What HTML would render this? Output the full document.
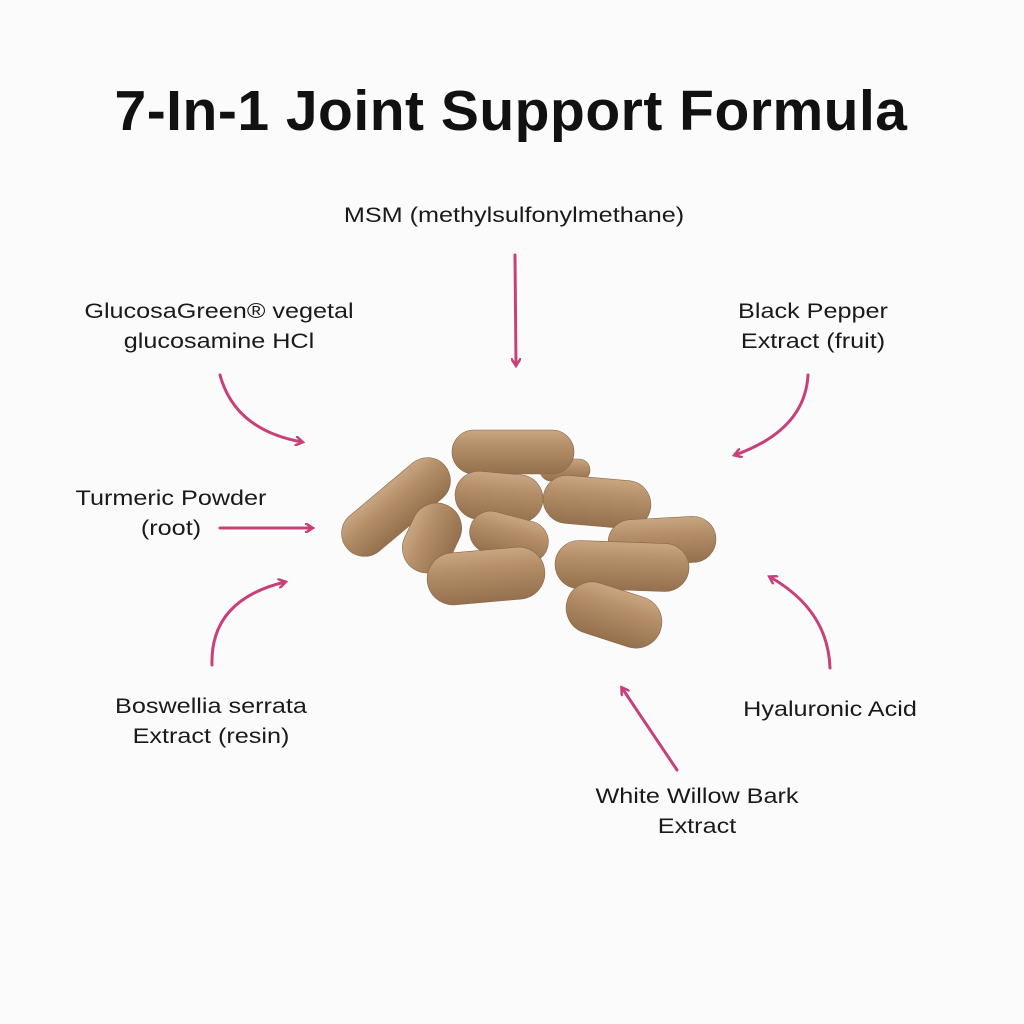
<!DOCTYPE html>
<html><head><style>
body{margin:0;width:1024px;height:1024px;background:#fbfbfb;position:relative;overflow:hidden;font-family:"Liberation Sans",sans-serif;color:#1a1a1a}
.t{position:absolute;left:0;width:1022px;top:78px;text-align:center;font-weight:bold;font-size:57px;letter-spacing:0.5px;color:#111}
.l{position:absolute;width:600px;font-size:21px;text-align:center;line-height:30px;white-space:nowrap;transform:scaleX(1.2);transform-origin:center}
svg{position:absolute;left:0;top:0}
</style></head><body>
<div class="t">7-In-1 Joint Support Formula</div>
<div class="l" style="left:214px;top:201px">MSM (methylsulfonylmethane)</div>
<div class="l" style="left:-81px;top:297px">GlucosaGreen® vegetal<br>glucosamine HCl</div>
<div class="l" style="left:513px;top:297px">Black Pepper<br>Extract (fruit)</div>
<div class="l" style="left:-129px;top:484px">Turmeric Powder<br>(root)</div>
<div class="l" style="left:-89px;top:692px">Boswellia serrata<br>Extract (resin)</div>
<div class="l" style="left:530px;top:695px">Hyaluronic Acid</div>
<div class="l" style="left:397px;top:782px">White Willow Bark<br>Extract</div>
<svg width="1024" height="1024">
<defs>
<linearGradient id="g" x1="0" y1="0" x2="0" y2="1">
<stop offset="0" stop-color="#c9a682"/><stop offset="0.35" stop-color="#b48f69"/><stop offset="1" stop-color="#94704e"/>
</linearGradient>
<marker id="a" markerWidth="10" markerHeight="10" refX="7" refY="5" orient="auto" markerUnits="userSpaceOnUse" viewBox="0 0 10 10"><path d="M0,0 L8,5 L0,10" fill="none" stroke="#c8407a" stroke-width="2.5"/></marker>
</defs>
<g fill="none" stroke="#c8407a" stroke-width="3" stroke-linecap="round">
<path d="M515,255 L516,365" marker-end="url(#a)"/>
<path d="M220,375 Q235,430 302,442" marker-end="url(#a)"/>
<path d="M808,375 Q805,430 735,455" marker-end="url(#a)"/>
<path d="M220,528 L312,528" marker-end="url(#a)"/>
<path d="M212,665 Q210,600 285,582" marker-end="url(#a)"/>
<path d="M830,668 Q828,610 770,577" marker-end="url(#a)"/>
<path d="M677,770 L622,688" marker-end="url(#a)"/>
</g>
<g fill="url(#g)" stroke="#8a6746" stroke-width="0.6">
<rect x="-25" y="-11" width="50" height="22" rx="11" transform="translate(565,470)"/>
<rect x="-61" y="-22" width="122" height="44" rx="22" transform="translate(513,452)"/>
<rect x="-44" y="-24" width="88" height="48" rx="24" transform="translate(499,497) rotate(5)"/>
<rect x="-54" y="-24" width="108" height="48" rx="24" transform="translate(597,502) rotate(5)"/>
<rect x="-64" y="-23" width="128" height="46" rx="23" transform="translate(396,507) rotate(-40)"/>
<rect x="-54" y="-23" width="108" height="46" rx="23" transform="translate(662,541) rotate(-3)"/>
<rect x="-36" y="-25" width="72" height="50" rx="25" transform="translate(432,538) rotate(-65)"/>
<rect x="-40" y="-21" width="80" height="42" rx="21" transform="translate(509,537) rotate(15)"/>
<rect x="-59" y="-26" width="118" height="52" rx="26" transform="translate(486,576) rotate(-5)"/>
<rect x="-67" y="-24" width="134" height="48" rx="24" transform="translate(622,566) rotate(2)"/>
<rect x="-49" y="-26" width="98" height="52" rx="26" transform="translate(614,615) rotate(18)"/>
</g>
</svg>
</body></html>
